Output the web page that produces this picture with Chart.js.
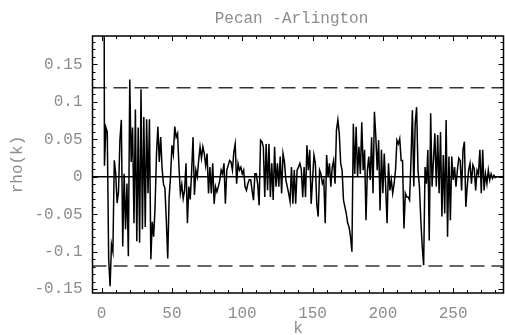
<!DOCTYPE html>
<html>
<head>
<meta charset="utf-8">
<script src="https://cdn.jsdelivr.net/npm/chart.js@4"></script>
<style>
  body { margin: 0; background: #fff; }
  #wrap { width: 505px; height: 335px; }
</style>
</head>
<body>
<div id="wrap"><canvas id="acf" width="505" height="335"></canvas></div>
<script>
// sample autocorrelation rho(k), k = 0..280 (plotted at index k+1)
const rho = [
  1, 0.015, 0.066, 0.06, -0.11, -0.146, -0.09, -0.1, 0.022, 0.004,
  -0.035, -0.02, 0.049, 0.076, -0.093, 0.004, -0.07, -0.009, -0.106, 0.13,
  0.02, 0.066, -0.062, 0.09, -0.086, 0.066, -0.088, 0.117, -0.07, 0.08,
  -0.067, 0.077, -0.022, 0.077, -0.11, -0.06, -0.08, -0.04, 0.03, 0.067,
  0.02, 0.053, 0.011, -0.01, -0.015, -0.058, -0.109, -0.027, 0.0, 0.042,
  0.03, 0.067, 0.053, 0.058, 0.013, -0.022, -0.01, -0.029, -0.018, 0.018,
  -0.062, -0.013, -0.03, 0.007, 0.053, -0.024, 0.009, 0.0, 0.022, 0.04,
  0.025, 0.04, 0.031, 0.015, 0.031, -0.022, 0.013, -0.022, 0.018, -0.036,
  -0.013, -0.02, -0.013, -0.005, 0.009, 0.004, 0.018, -0.036, 0.009, 0.015,
  0.022, 0.02, 0.009, 0.033, 0.044, -0.009, 0.018, 0.009, 0.013, 0.004,
  0.009, -0.013, -0.018, -0.009, -0.004, -0.004, -0.018, -0.031, 0.004, 0.004,
  -0.01, -0.038, 0.049, 0.047, 0.04, -0.027, 0.044, -0.018, 0.044, -0.027,
  0.018, -0.031, 0.04, -0.013, 0.018, -0.013, 0.027, -0.022, 0.031, 0.02,
  -0.004, -0.013, -0.022, -0.033, 0.013, -0.036, 0.009, -0.036, 0.009, 0.013,
  0.018, 0.01, -0.027, 0.013, -0.027, 0.042, 0.009, 0.036, -0.036, -0.004,
  0.029, 0.018, -0.036, -0.053, 0.009, 0.004, -0.009, -0.004, -0.062, 0.029,
  0.0, 0.018, -0.013, 0.013, 0.022, -0.009, 0.062, 0.076, 0.058, 0.018,
  0.009, -0.031, -0.04, -0.049, -0.062, -0.067, -0.08, -0.1, 0.071, 0.004,
  0.067, 0.0, 0.04, 0.004, 0.073, 0.009, 0.036, -0.058, 0.009, 0.027,
  -0.004, 0.053, -0.022, 0.087, 0.053, 0.009, 0.049, -0.045, 0.036, -0.022,
  0.031, -0.013, -0.062, 0.018, -0.018, -0.004, -0.022, -0.009, 0.009, 0.049,
  0.044, 0.051, 0.022, 0.022, -0.069, -0.022, -0.027, -0.027, -0.031, 0.022,
  0.089, -0.013, 0.071, 0.093, 0.009, -0.013, -0.058, -0.093, -0.118, 0.013,
  -0.009, 0.036, -0.085, 0.085, -0.013, 0.022, 0.058, -0.013, 0.056, -0.022,
  0.06, -0.053, 0.029, -0.049, 0.076, -0.08, 0.027, -0.058, 0.027, -0.004,
  0.013, -0.013, 0.009, 0.025, 0.022, -0.018, 0.036, 0.047, -0.04, -0.013,
  0.009, 0.018, -0.009, 0.016, 0.011, -0.018, 0.009, 0.004, 0.036, -0.022,
  0.036, -0.018, 0.004, -0.009, 0.009, -0.004, 0.004, -0.002, 0.002, -0.001,
  0.0
];
const xTicks = [0, 50, 100, 150, 200, 250];
const yTicks = [-0.15, -0.1, -0.05, 0, 0.05, 0.1, 0.15];
const bandLimit = 0.119;          // dashed +/- limits
const xRange = [-6.5, 285.8];
const yRange = [-0.155, 0.188];

const points = rho.map((v, i) => ({ x: i + 1, y: v }));
const hline = v => [{ x: xRange[0], y: v }, { x: xRange[1], y: v }];

const grey = '#8c8c8c';
const font = { family: "'Liberation Mono', 'DejaVu Sans Mono', monospace", size: 16 };

// Mathematica-like frame: box with inward ticks on every side, plus title
const framePlugin = {
  id: 'frame',
  afterDraw(chart) {
    const { ctx, chartArea: a, scales: { x, y } } = chart;
    ctx.save();
    ctx.strokeStyle = '#000';
    ctx.lineWidth = 1.5;
    ctx.strokeRect(a.left, a.top, a.right - a.left, a.bottom - a.top);
    ctx.lineWidth = 1;
    ctx.beginPath();
    for (let k = 0; k <= 280; k += 10) {
      const px = Math.round(x.getPixelForValue(k)) + 0.5;
      const len = k % 50 === 0 ? 5 : 3;
      ctx.moveTo(px, a.bottom); ctx.lineTo(px, a.bottom - len);
      ctx.moveTo(px, a.top); ctx.lineTo(px, a.top + len);
    }
    for (let i = -15; i <= 18; i++) {
      const py = Math.round(y.getPixelForValue(i / 100)) + 0.5;
      const len = i % 5 === 0 ? 5 : 3;
      ctx.moveTo(a.left, py); ctx.lineTo(a.left + len, py);
      ctx.moveTo(a.right, py); ctx.lineTo(a.right - len, py);
    }
    ctx.stroke();
    ctx.fillStyle = grey;
    ctx.font = "16px 'Liberation Mono'";
    ctx.textAlign = 'center';
    ctx.textBaseline = 'middle';
    ctx.fillText('Pecan -Arlington', 291.5, 19);
    ctx.restore();
  }
};

new Chart(document.getElementById('acf'), {
  type: 'line',
  data: {
    datasets: [
      { data: points, borderColor: '#000', borderWidth: 1.5, pointRadius: 0, tension: 0 },
      { data: hline(0), borderColor: '#000', borderWidth: 1.5, pointRadius: 0 },
      { data: hline(bandLimit), borderColor: '#333', borderWidth: 1.4, borderDash: [14, 7], pointRadius: 0 },
      { data: hline(-bandLimit), borderColor: '#333', borderWidth: 1.4, borderDash: [14, 7], pointRadius: 0 }
    ]
  },
  options: {
    responsive: false,
    animation: false,
    layout: { padding: { top: 36, right: 1.5, left: 0, bottom: 0 } },
    plugins: { legend: { display: false }, tooltip: { enabled: false } },
    scales: {
      x: {
        type: 'linear', min: xRange[0], max: xRange[1],
        grid: { display: false, drawTicks: false }, border: { display: false },
        afterBuildTicks: s => { s.ticks = xTicks.map(v => ({ value: v })); },
        afterFit: s => { s.height = 42; },
        ticks: { color: grey, font, padding: 11, autoSkip: false, maxRotation: 0 },
        title: { display: true, text: 'k', color: grey, font, padding: { top: 0, bottom: -3 } }
      },
      y: {
        type: 'linear', min: yRange[0], max: yRange[1],
        grid: { display: false, drawTicks: false }, border: { display: false },
        afterBuildTicks: s => { s.ticks = yTicks.map(v => ({ value: v })); },
        afterFit: s => { s.width = 92.5; },
        ticks: { color: grey, font, padding: 10, callback: v => String(+v.toFixed(2)) },
        title: { display: true, text: 'rho(k)', color: grey, font, padding: { top: 8, bottom: 0 } }
      }
    }
  },
  plugins: [framePlugin]
});
</script>
</body>
</html>
